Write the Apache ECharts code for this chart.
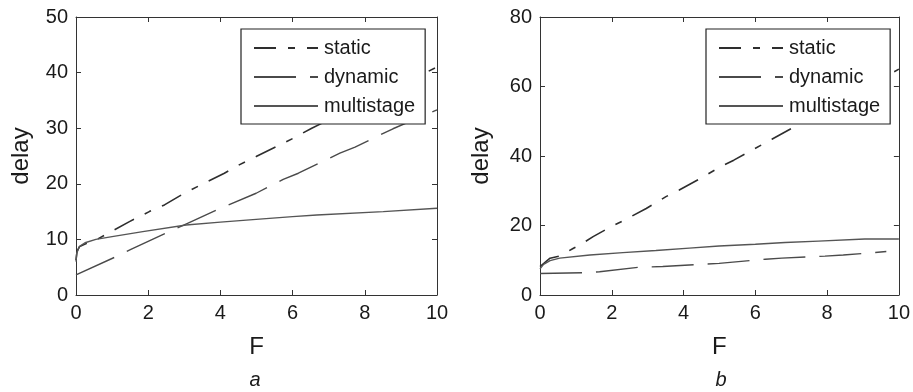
<!DOCTYPE html>
<html>
<head>
<meta charset="utf-8">
<script src="https://cdn.jsdelivr.net/npm/echarts@6/dist/echarts.min.js"></script>
<style>html,body{margin:0;padding:0;background:#fff;}#c{width:913px;height:392px;}</style>
</head>
<body>
<div id="c"></div>
<script>
// ---- Panel a ----
const aStaticX = [0, 0.03, 0.1, 0.3, 0.55, 1.0, 1.48, 2.03, 2.45, 3.0, 3.55, 4.11, 4.52, 4.99, 6.02, 6.53, 10];
const aStaticY = [6.3, 7.9, 8.7, 9.3, 9.9, 11.5, 13.2, 15.0, 16.2, 18.3, 20.1, 21.9, 23.4, 24.9, 28.2, 30.0, 41.0];
const aDynamicX = [0, 1.11, 1.52, 2.68, 3.09, 4.0, 4.99, 5.74, 6.16, 7.31, 7.73, 8.78, 10];
const aDynamicY = [3.6, 6.9, 8.2, 11.7, 12.9, 15.6, 18.3, 20.8, 21.9, 25.5, 26.6, 29.9, 33.3];
const aMultiX = [0, 0.02, 0.09, 0.25, 0.55, 1.0, 1.85, 3.05, 4.0, 4.99, 6.0, 6.67, 8.51, 10];
const aMultiY = [6.0, 7.5, 8.7, 9.4, 10.0, 10.5, 11.4, 12.6, 13.1, 13.6, 14.1, 14.4, 15.0, 15.6];
// ---- Panel b ----
const bStaticX = [0, 0.28, 0.55, 0.92, 1.11, 1.48, 1.99, 2.40, 2.96, 3.51, 3.88, 4.48, 4.99, 5.4, 5.91, 6.46, 7.02, 10];
const bStaticY = [8.2, 10.6, 11.2, 13.4, 14.4, 16.8, 19.7, 21.8, 24.9, 28.3, 30.2, 33.6, 36.7, 38.8, 41.7, 44.8, 48.0, 65.0];
const bDynamicX = [0, 1.2, 1.66, 2.77, 3.42, 4.62, 4.99, 6.28, 6.74, 7.94, 8.45, 9.65];
const bDynamicY = [6.2, 6.4, 6.7, 8.0, 8.2, 8.9, 9.1, 10.3, 10.6, 11.2, 11.5, 12.5];
const bMultiX = [0, 0.1, 0.28, 0.55, 1.39, 2.31, 3.23, 4.16, 4.99, 6.0, 6.83, 7.76, 9.05, 10];
const bMultiY = [7.5, 8.8, 9.9, 10.6, 11.5, 12.2, 12.8, 13.5, 14.1, 14.6, 15.1, 15.5, 16.1, 16.1];

const seriesNames = ['static', 'dynamic', 'multistage'];
const xTitle = 'F';
const yTitle = 'delay';
const panelLabels = ['a', 'b'];
const aYMax = 50, aYStep = 10;
const bYMax = 80, bYStep = 20;
const xMax = 10, xStep = 2;

const zip = (xs, ys) => xs.map((x, i) => [x, ys[i]]);
const FONT = 'Liberation Sans';
const TXT = '#1a1a1a';
const AX = '#333';

const styles = {
  static: { color: '#2e2e2e', width: 1.6, type: [22, 12, 7, 12] },
  dynamic: { color: '#4a4a4a', width: 1.4, type: [42, 14] },
  multistage: { color: '#555', width: 1.4, type: 'solid' }
};

function xAxes(gi) {
  return [
    { gridIndex: gi, type: 'value', min: 0, max: xMax, interval: xStep, position: 'bottom',
      name: xTitle, nameLocation: 'middle', nameGap: 40,
      nameTextStyle: { fontFamily: FONT, fontSize: 24, color: TXT },
      axisLine: { onZero: false, lineStyle: { color: AX, width: 1 } },
      axisTick: { inside: true, length: 5, lineStyle: { color: AX } },
      axisLabel: { fontFamily: FONT, fontSize: 20, color: TXT, margin: 8 },
      splitLine: { show: false } },
    { gridIndex: gi, type: 'value', min: 0, max: xMax, interval: xStep, position: 'top',
      axisLine: { onZero: false, lineStyle: { color: AX, width: 1 } },
      axisTick: { inside: true, length: 5, lineStyle: { color: AX } },
      axisLabel: { show: false }, splitLine: { show: false } }
  ];
}
function yAxes(gi, ymax, ystep, gap) {
  return [
    { gridIndex: gi, type: 'value', min: 0, max: ymax, interval: ystep, position: 'left',
      name: yTitle, nameLocation: 'middle', nameGap: gap, nameRotate: 90,
      nameTextStyle: { fontFamily: FONT, fontSize: 24, color: TXT },
      axisLine: { show: true, onZero: false, lineStyle: { color: AX, width: 1 } },
      axisTick: { show: true, inside: true, length: 5, lineStyle: { color: AX } },
      axisLabel: { fontFamily: FONT, fontSize: 20, color: TXT, margin: 8 },
      splitLine: { show: false } },
    { gridIndex: gi, type: 'value', min: 0, max: ymax, interval: ystep, position: 'right',
      axisLine: { show: true, onZero: false, lineStyle: { color: AX, width: 1 } },
      axisTick: { show: true, inside: true, length: 5, lineStyle: { color: AX } },
      axisLabel: { show: false }, splitLine: { show: false } }
  ];
}
function line(name, data, xi, yi) {
  const s = styles[name];
  return { name, type: 'line', xAxisIndex: xi, yAxisIndex: yi, data, symbol: 'none',
    showSymbol: false, animation: false, z: 2,
    lineStyle: { color: s.color, width: s.width, type: s.type }, itemStyle: { color: s.color } };
}
function legend(left) {
  return { data: seriesNames, left, top: 29, orient: 'vertical',
    backgroundColor: '#fff', borderColor: '#222', borderWidth: 1.2,
    padding: [9, 10, 8, 12], itemGap: 9, itemWidth: 64, itemHeight: 14,
    selectedMode: false, z: 10, itemStyle: { opacity: 0 },
    textStyle: { fontFamily: FONT, fontSize: 20, color: TXT, lineHeight: 20, padding: [0, 0, 0, 1] } };
}

const chart = echarts.init(document.getElementById('c'), null, { renderer: 'canvas' });
chart.setOption({
  backgroundColor: '#fff',
  animation: false,
  grid: [
    { left: 76, top: 17, width: 361, height: 278 },
    { left: 540, top: 17, width: 361, height: 278 }
  ],
  xAxis: [...xAxes(0), ...xAxes(1)],
  yAxis: [...yAxes(0, aYMax, aYStep, 43), ...yAxes(1, bYMax, bYStep, 47)],
  legend: [legend(241), legend(706)],
  series: [
    line('static', zip(aStaticX, aStaticY), 0, 0),
    line('dynamic', zip(aDynamicX, aDynamicY), 0, 0),
    line('multistage', zip(aMultiX, aMultiY), 0, 0),
    line('static', zip(bStaticX, bStaticY), 2, 2),
    line('dynamic', zip(bDynamicX, bDynamicY), 2, 2),
    line('multistage', zip(bMultiX, bMultiY), 2, 2)
  ],
  graphic: [
    { type: 'text', x: 255, y: 380, style: { text: panelLabels[0], font: 'italic 20px "Liberation Sans"', fill: TXT, align: 'center', verticalAlign: 'middle' } },
    { type: 'text', x: 721, y: 380, style: { text: panelLabels[1], font: 'italic 20px "Liberation Sans"', fill: TXT, align: 'center', verticalAlign: 'middle' } }
  ]
});
</script>
</body>
</html>
